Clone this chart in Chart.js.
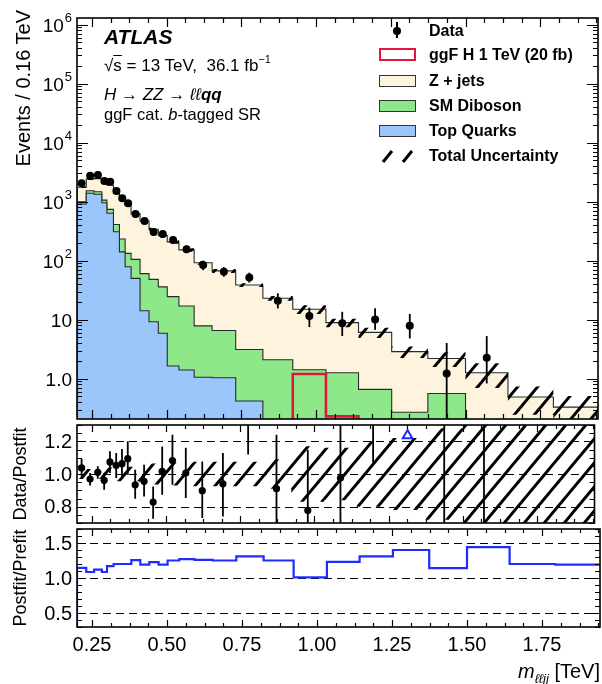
<!DOCTYPE html>
<html><head><meta charset="utf-8">
<script src="https://cdn.jsdelivr.net/npm/chart.js@4"></script>
<style>
html,body{margin:0;padding:0;background:#fff;}
body{width:602px;height:684px;overflow:hidden;position:relative;font-family:'Liberation Sans',Arial,Helvetica,sans-serif;color:#000;}
canvas{position:absolute;left:0;top:0;}
.t{position:absolute;white-space:nowrap;line-height:1;}
.rot{position:absolute;white-space:nowrap;line-height:1;transform:rotate(-90deg);transform-origin:left top;}
.box{position:absolute;box-sizing:border-box;}
</style></head><body>
<canvas id="cMain" width="602" height="684"></canvas>
<canvas id="cRatio" width="602" height="684"></canvas>
<canvas id="cPost" width="602" height="684"></canvas>

<div class="t" style="left:104px;top:25.5px;font-size:21px;font-weight:bold;font-style:italic;">ATLAS</div>
<div class="t" style="left:104px;top:56.5px;font-size:17px;">√<span style="text-decoration:overline;">s</span> = 13 TeV,&nbsp; 36.1 fb<sup style="font-size:11px;line-height:0;position:relative;top:-1px;">−1</sup></div>
<div class="t" style="left:104px;top:85.5px;font-size:17px;font-style:italic;">H → ZZ → ℓℓ<b>qq</b></div>
<div class="t" style="left:104px;top:105.5px;font-size:16.5px;">ggF cat. <i>b</i>-tagged SR</div>

<div class="t" style="left:429px;top:22.5px;font-size:16px;font-weight:bold;">Data</div>
<div class="t" style="left:429px;top:47px;font-size:16px;font-weight:bold;">ggF H 1 TeV (20 fb)</div>
<div class="t" style="left:429px;top:73px;font-size:16px;font-weight:bold;">Z + jets</div>
<div class="t" style="left:429px;top:98px;font-size:16px;font-weight:bold;">SM Diboson</div>
<div class="t" style="left:429px;top:123px;font-size:16px;font-weight:bold;">Top Quarks</div>
<div class="t" style="left:429px;top:148px;font-size:16px;font-weight:bold;">Total Uncertainty</div>

<div class="box" style="left:396px;top:22px;width:2px;height:16px;background:#000;"></div>
<div class="box" style="left:393px;top:26.5px;width:8px;height:8px;border-radius:50%;background:#000;"></div>
<div class="box" style="left:379px;top:48px;width:37px;height:13px;border:2.5px solid #e0163c;background:#fff;"></div>
<div class="box" style="left:379px;top:75px;width:37px;height:12px;border:1px solid #333;background:#fef3dd;"></div>
<div class="box" style="left:379px;top:100px;width:37px;height:12px;border:1px solid #333;background:#8ee88a;"></div>
<div class="box" style="left:379px;top:125px;width:37px;height:12px;border:1px solid #333;background:#9ac6fb;"></div>
<svg style="position:absolute;left:379px;top:148px;" width="40" height="16"><line x1="4" y1="14" x2="13" y2="3" stroke="#000" stroke-width="3"/><line x1="24" y1="14" x2="33" y2="3" stroke="#000" stroke-width="3"/></svg>

<div class="rot" style="left:13px;top:310px;width:300px;text-align:right;font-size:20px;">Events / 0.16 TeV</div>
<div class="rot" style="left:11px;top:574px;width:200px;text-align:center;font-size:18px;">Data/Postfit</div>
<div class="rot" style="left:11px;top:678px;width:200px;text-align:center;font-size:18px;">Postfit/Prefit</div>
<div class="t" style="right:2px;top:661px;font-size:20px;"><i>m</i><sub style="font-size:13px;font-style:italic;line-height:0;">ℓℓjj</sub> [TeV]</div>

<script>
// ---------------- data ----------------
const binEdges = [0.2, 0.231, 0.257, 0.283, 0.3, 0.322, 0.342, 0.361, 0.381, 0.411, 0.441, 0.472, 0.502, 0.541, 0.592, 0.652, 0.731, 0.822, 0.922, 1.033, 1.142, 1.253, 1.374, 1.5, 1.642, 1.794, 1.945];
const zJets     = [754, 870, 980, 980, 1160, 970, 828, 737, 515, 410, 292, 229, 183.5, 135, 84.1, 60.5, 35.5, 20.9, 13.6, 7.64, 5.44, 2.6, 1.64, 1.26, 0.49, 0.33];
const smDiboson = [86, 147, 140, 105, 105, 102, 91, 54, 55, 46, 39, 30, 22.9, 15.6, 6.8, 5.5, 2.7, 2.1, 1.42, 1.26, 0.66, 0.27, 0.56, 0, 0, 0];
const topQuarks = [910, 1383, 1330, 955, 635, 308, 141, 79, 50, 14.2, 9.2, 5.9, 1.64, 1.4, 1.06, 1.04, 0.42, 0, 0, 0, 0, 0, 0, 0, 0, 0];
const signalH   = [0, 0, 0, 0, 0, 0, 0, 0, 0, 0, 0, 0, 0, 0, 0, 0, 0, 0, 1.2, 0.23, 0, 0, 0, 0, 0, 0];
const totalUncRel = [0.03, 0.03, 0.03, 0.035, 0.04, 0.045, 0.045, 0.045, 0.045, 0.06, 0.065, 0.07, 0.07, 0.07, 0.075, 0.075, 0.075, 0.09, 0.17, 0.16, 0.2, 0.22, 0.28, 0.45, 0.5, 0.55];

const dataValues  = [2040, 2750, 2820, 2230, 2170, 1510, 1140, 936, 616, 469, 306, 283, 224, 156, 84, 65, 52, 21, 11.5, 8.7, 10.1, 7.9, 1.23, 2.27];
const dataErrDown = [100, 130, 130, 145, 125, 110, 98, 86, 57, 50, 40, 39, 30, 22, 15, 11.5, 9.5, 5.5, 4, 3.4, 3.4, 3.1, 1.2, 1.44];
const dataErrUp   = [105, 135, 135, 150, 130, 115, 100, 90, 60, 53, 42, 41, 32, 23, 16, 12.5, 10.5, 7, 4.5, 4.9, 5.5, 4.6, 2.8, 3.0];

const ratioValues  = [1.037, 0.969, 1.010, 0.961, 1.074, 1.053, 1.063, 1.094, 0.934, 0.955, 0.828, 1.016, 1.082, 1.006, 0.898, 0.940, 1.34, 0.91, 0.777, 0.975, 1.66, 2.75, 0.56, 1.8];
const ratioErrDown = [0.052, 0.039, 0.039, 0.057, 0.068, 0.078, 0.088, 0.098, 0.086, 0.092, 0.102, 0.143, 0.148, 0.153, 0.168, 0.2, 0.22, 0.26, 0.3, 0.4, 0.59, 1.08, 0.55, 1.2];
const ratioErrUp   = [0.055, 0.037, 0.037, 0.045, 0.065, 0.076, 0.09, 0.106, 0.092, 0.102, 0.096, 0.153, 0.159, 0.154, 0.179, 0.189, 0.25, 0.33, 0.372, 0.6, 0.9, 1.6, 1.3, 2.4];

const postfitOverPrefit = [1.144, 1.086, 1.12, 1.086, 1.169, 1.2, 1.2, 1.2, 1.255, 1.19, 1.226, 1.19, 1.25, 1.27, 1.26, 1.25, 1.31, 1.25, 1.01, 1.23, 1.31, 1.40, 1.14, 1.44, 1.20, 1.19];

const xTickValues = [0.25, 0.5, 0.75, 1.0, 1.25, 1.5, 1.75];
const xTickLabels = ['0.25', '0.50', '0.75', '1.00', '1.25', '1.50', '1.75'];
const mainYTickValues = [1e6, 1e5, 1e4, 1e3, 100, 10, 1];
const mainYTickLabels = ['10^6', '10^5', '10^4', '10^3', '10^2', '10', '1.0'];
const ratioYTickValues = [1.2, 1.0, 0.8];
const ratioYTickLabels = ['1.2', '1.0', '0.8'];
const postYTickValues = [1.5, 1.0, 0.5];
const postYTickLabels = ['1.5', '1.0', '0.5'];

// ---------------- helpers ----------------
const X_MIN = 0.2, X_MAX = 1.9433;
const FLOOR = 1e-3;
const centers = dataValues.map((_, i) => (binEdges[i] + binEdges[i + 1]) / 2);
const cum = (arrs) => arrs[0].map((_, i) => arrs.reduce((s, a) => s + a[i], 0));
const stackTop = topQuarks;
const stackDib = cum([topQuarks, smDiboson]);
const stackAll = cum([topQuarks, smDiboson, zJets]);

function stepPts(vals, floor, withStart) {
  const pts = [];
  if (withStart) pts.push({x: binEdges[0], y: floor});
  vals.forEach((v, i) => pts.push({x: binEdges[i], y: v > 0 ? v : floor}));
  const last = vals[vals.length - 1];
  pts.push({x: binEdges[vals.length], y: last > 0 ? last : floor});
  return pts;
}

function makeHatch() {
  const w = 20, h = 24;
  const c = document.createElement('canvas');
  c.width = w; c.height = h;
  const g = c.getContext('2d');
  g.strokeStyle = '#000'; g.lineWidth = 3; g.lineCap = 'butt';
  [-w, 0, w].forEach(ox => {
    g.beginPath(); g.moveTo(ox - 3.33, h + 4); g.lineTo(ox + w + 3.33, -4); g.stroke();
  });
  return g.createPattern(c, 'repeat');
}
const hatch = makeHatch();

function minorTicksBetween(majors, nSub, lo, hi) {
  const step = (majors[1] - majors[0]) / nSub;
  const out = [];
  const start = majors[0] - Math.ceil((majors[0] - lo) / step) * step;
  for (let v = start; v <= hi + 1e-9; v += step) {
    if (v < lo - 1e-9) continue;
    const isMajor = majors.some(m => Math.abs(m - v) < step / 10);
    out.push({v: v, major: isMajor});
  }
  return out;
}
const xTicksAll = minorTicksBetween(xTickValues.slice().sort((a, b) => a - b), 4, X_MIN, X_MAX);

function logTicks(lo, hi) {
  const out = [];
  for (let d = Math.floor(Math.log10(lo)); d <= Math.ceil(Math.log10(hi)); d++) {
    for (let k = 1; k <= 9; k++) {
      const v = k * Math.pow(10, d);
      if (v >= lo && v <= hi) out.push({v: v, major: k === 1});
    }
  }
  return out;
}
const linTicks = (lo, hi, step, majors) => {
  const out = [];
  for (let k = Math.ceil(lo / step - 1e-6); k * step <= hi + 1e-9; k++) {
    const v = +(k * step).toFixed(4);
    out.push({v: v, major: majors.some(m => Math.abs(m - v) < 1e-6)});
  }
  return out;
};

const FONT = "'Liberation Sans', Arial, Helvetica, sans-serif";

const atlasAxes = {
  id: 'atlasAxes',
  beforeDatasetsDraw(chart, args, o) {
    if (!o.dashed) return;
    const {ctx, chartArea: a, scales: {y}} = chart;
    ctx.save();
    ctx.setLineDash([8, 5]); ctx.strokeStyle = '#000'; ctx.lineWidth = 1;
    o.dashed.forEach(v => {
      const py = Math.round(y.getPixelForValue(v)) + 0.5;
      ctx.beginPath(); ctx.moveTo(a.left, py); ctx.lineTo(a.right, py); ctx.stroke();
    });
    ctx.restore();
  },
  afterDatasetsDraw(chart, args, o) {
    if (!o.err) return;
    const {ctx, chartArea: a, scales: {x, y}} = chart;
    ctx.save();
    ctx.beginPath(); ctx.rect(a.left, a.top, a.right - a.left, a.bottom - a.top); ctx.clip();
    ctx.strokeStyle = '#000'; ctx.lineWidth = 1.8;
    o.err.vals.forEach((v, i) => {
      const px = x.getPixelForValue(o.err.xs[i]);
      const lo = v - o.err.dn[i], hi = v + o.err.up[i];
      const yLo = lo > 0 ? y.getPixelForValue(lo) : a.bottom + 10;
      const yHi = y.getPixelForValue(hi);
      ctx.beginPath(); ctx.moveTo(px, Math.min(yLo, a.bottom + 10)); ctx.lineTo(px, Math.max(yHi, a.top - 10)); ctx.stroke();
    });
    ctx.restore();
  },
  afterDraw(chart, args, o) {
    const {ctx, chartArea: a, scales: {x, y}} = chart;
    ctx.save();
    ctx.strokeStyle = '#000'; ctx.lineWidth = 1.2;
    ctx.beginPath();
    xTicksAll.forEach(t => {
      const px = Math.round(x.getPixelForValue(t.v)) + 0.5;
      const L = t.major ? o.xMaj : o.xMin;
      ctx.moveTo(px, a.bottom); ctx.lineTo(px, a.bottom - L);
      ctx.moveTo(px, a.top); ctx.lineTo(px, a.top + L);
    });
    o.yTicks.forEach(t => {
      const py = Math.round(y.getPixelForValue(t.v)) + 0.5;
      const L = t.major ? o.yMaj : o.yMin;
      ctx.moveTo(a.left, py); ctx.lineTo(a.left + L, py);
      ctx.moveTo(a.right, py); ctx.lineTo(a.right - L, py);
    });
    ctx.stroke();
    ctx.lineWidth = 1.6;
    ctx.strokeRect(a.left, a.top, a.right - a.left, a.bottom - a.top);
    ctx.fillStyle = '#000';
    ctx.textBaseline = 'middle';
    const fs = o.labelSize || 20;
    o.yLabels.forEach((lab, i) => {
      const py = y.getPixelForValue(o.yLabelVals[i]) + (o.yLabelShift || 0);
      const rx = a.left - 5;
      const parts = lab.split('^');
      ctx.font = fs + 'px ' + FONT;
      if (parts.length === 2) {
        const wb = ctx.measureText(parts[0]).width;
        ctx.font = Math.round(fs * 0.68) + 'px ' + FONT;
        const we = ctx.measureText(parts[1]).width;
        ctx.textAlign = 'left';
        ctx.fillText(parts[1], rx - we, py - fs * 0.42);
        ctx.font = fs + 'px ' + FONT;
        ctx.fillText(parts[0], rx - we - wb - 1, py);
      } else {
        ctx.textAlign = 'right';
        ctx.fillText(lab, rx, py);
      }
    });
    if (o.xLabels) {
      ctx.font = fs + 'px ' + FONT;
      ctx.textAlign = 'center';
      xTickLabels.forEach((lab, i) => {
        ctx.fillText(lab, x.getPixelForValue(xTickValues[i]), a.bottom + 18);
      });
    }
    ctx.restore();
  }
};

function opts(yType, yMin, yMax, pad, axCfg) {
  return {
    responsive: false, animation: false, devicePixelRatio: 1,
    layout: {padding: pad},
    plugins: {legend: {display: false}, tooltip: {enabled: false}, atlasAxes: axCfg},
    scales: {
      x: {type: 'linear', min: X_MIN, max: X_MAX, display: false},
      y: {type: yType, min: yMin, max: yMax, display: false}
    },
    elements: {point: {radius: 0}, line: {tension: 0}}
  };
}

// ---------------- main panel ----------------
const MAIN_MIN = 0.2076, MAIN_MAX = 1.29e6;
new Chart(document.getElementById('cMain'), {
  type: 'line',
  data: {
    datasets: [
      {label: 'Data', data: dataValues.map((v, i) => ({x: centers[i], y: v})), showLine: false,
       pointRadius: 4, pointHoverRadius: 4, pointBackgroundColor: '#000', pointBorderWidth: 0},
      {label: 'uncUp', data: stepPts(stackAll.map((v, i) => v * (1 + totalUncRel[i])), FLOOR, false), stepped: true,
       borderWidth: 0, borderColor: 'rgba(0,0,0,0)', backgroundColor: hatch, fill: '+1'},
      {label: 'uncDn', data: stepPts(stackAll.map((v, i) => v * (1 - totalUncRel[i])), FLOOR, false), stepped: true,
       borderWidth: 0, borderColor: 'rgba(0,0,0,0)', fill: false},
      {label: 'ggF H 1 TeV', data: stepPts(signalH, FLOOR, true), stepped: true,
       borderColor: '#e0163c', borderWidth: 2.6, fill: false},
      {label: 'Top Quarks', data: stepPts(stackTop, FLOOR, true), stepped: true,
       borderColor: '#2a2a2a', borderWidth: 1.1, backgroundColor: '#9ac6fb', fill: 'start'},
      {label: 'SM Diboson', data: stepPts(stackDib, FLOOR, true), stepped: true,
       borderColor: '#2a2a2a', borderWidth: 1.1, backgroundColor: '#8ee88a', fill: 'start'},
      {label: 'Z + jets', data: stepPts(stackAll, FLOOR, true), stepped: true,
       borderColor: '#2a2a2a', borderWidth: 1.1, backgroundColor: '#fef3dd', fill: 'start'}
    ]
  },
  options: opts('logarithmic', MAIN_MIN, MAIN_MAX, {left: 77, right: 2, top: 18, bottom: 265}, {
    xMaj: 9, xMin: 5, yMaj: 11, yMin: 5,
    yTicks: logTicks(MAIN_MIN, MAIN_MAX),
    yLabels: mainYTickLabels, yLabelVals: mainYTickValues, yLabelShift: 2,
    err: {vals: dataValues, xs: centers, dn: dataErrDown, up: dataErrUp},
    xLabels: false, labelSize: 19
  }),
  plugins: [atlasAxes]
});

// ---------------- data / postfit ----------------
const R_MIN = 0.7, R_MAX = 1.3;
const arrowPts = [];
ratioValues.forEach((v, i) => { if (v - ratioErrDown[i] > R_MAX) arrowPts.push({x: centers[i], y: R_MAX - 0.065}); });
new Chart(document.getElementById('cRatio'), {
  type: 'line',
  data: {
    datasets: [
      {label: 'ratio', data: ratioValues.map((v, i) => ({x: centers[i], y: v})), showLine: false,
       pointRadius: 3.6, pointHoverRadius: 3.6, pointBackgroundColor: '#000', pointBorderWidth: 0},
      {label: 'arrow', data: arrowPts, showLine: false, pointStyle: 'triangle', pointRadius: 5.5,
       pointBorderColor: '#1f2bff', pointBackgroundColor: 'rgba(255,255,255,0)', pointBorderWidth: 2},
      {label: 'bandUp', data: stepPts(totalUncRel.map(u => 1 + u), 1, false), stepped: true,
       borderWidth: 0, borderColor: 'rgba(0,0,0,0)', backgroundColor: hatch, fill: '+1'},
      {label: 'bandDn', data: stepPts(totalUncRel.map(u => 1 - u), 1, false), stepped: true,
       borderWidth: 0, borderColor: 'rgba(0,0,0,0)', fill: false}
    ]
  },
  options: opts('linear', R_MIN, R_MAX, {left: 77, right: 2, top: 425, bottom: 161}, {
    xMaj: 7, xMin: 4, yMaj: 9, yMin: 5,
    yTicks: linTicks(R_MIN, R_MAX, 0.05, ratioYTickValues),
    yLabels: ratioYTickLabels, yLabelVals: ratioYTickValues, yLabelShift: 1,
    dashed: ratioYTickValues,
    err: {vals: ratioValues, xs: centers, dn: ratioErrDown, up: ratioErrUp},
    xLabels: false, labelSize: 20
  }),
  plugins: [atlasAxes]
});

// ---------------- postfit / prefit ----------------
const P_MIN = 0.3, P_MAX = 1.7;
new Chart(document.getElementById('cPost'), {
  type: 'line',
  data: {
    datasets: [
      {label: 'postfit/prefit', data: stepPts(postfitOverPrefit, 0, true), stepped: true,
       borderColor: '#1f2bff', borderWidth: 2.2, fill: false}
    ]
  },
  options: opts('linear', P_MIN, P_MAX, {left: 77, right: 2, top: 529, bottom: 57}, {
    xMaj: 7, xMin: 4, yMaj: 9, yMin: 5,
    yTicks: linTicks(P_MIN, P_MAX, 0.1, postYTickValues),
    yLabels: postYTickLabels, yLabelVals: postYTickValues, yLabelShift: 1,
    dashed: postYTickValues,
    xLabels: true, labelSize: 20
  }),
  plugins: [atlasAxes]
});
</script>
</body></html>
